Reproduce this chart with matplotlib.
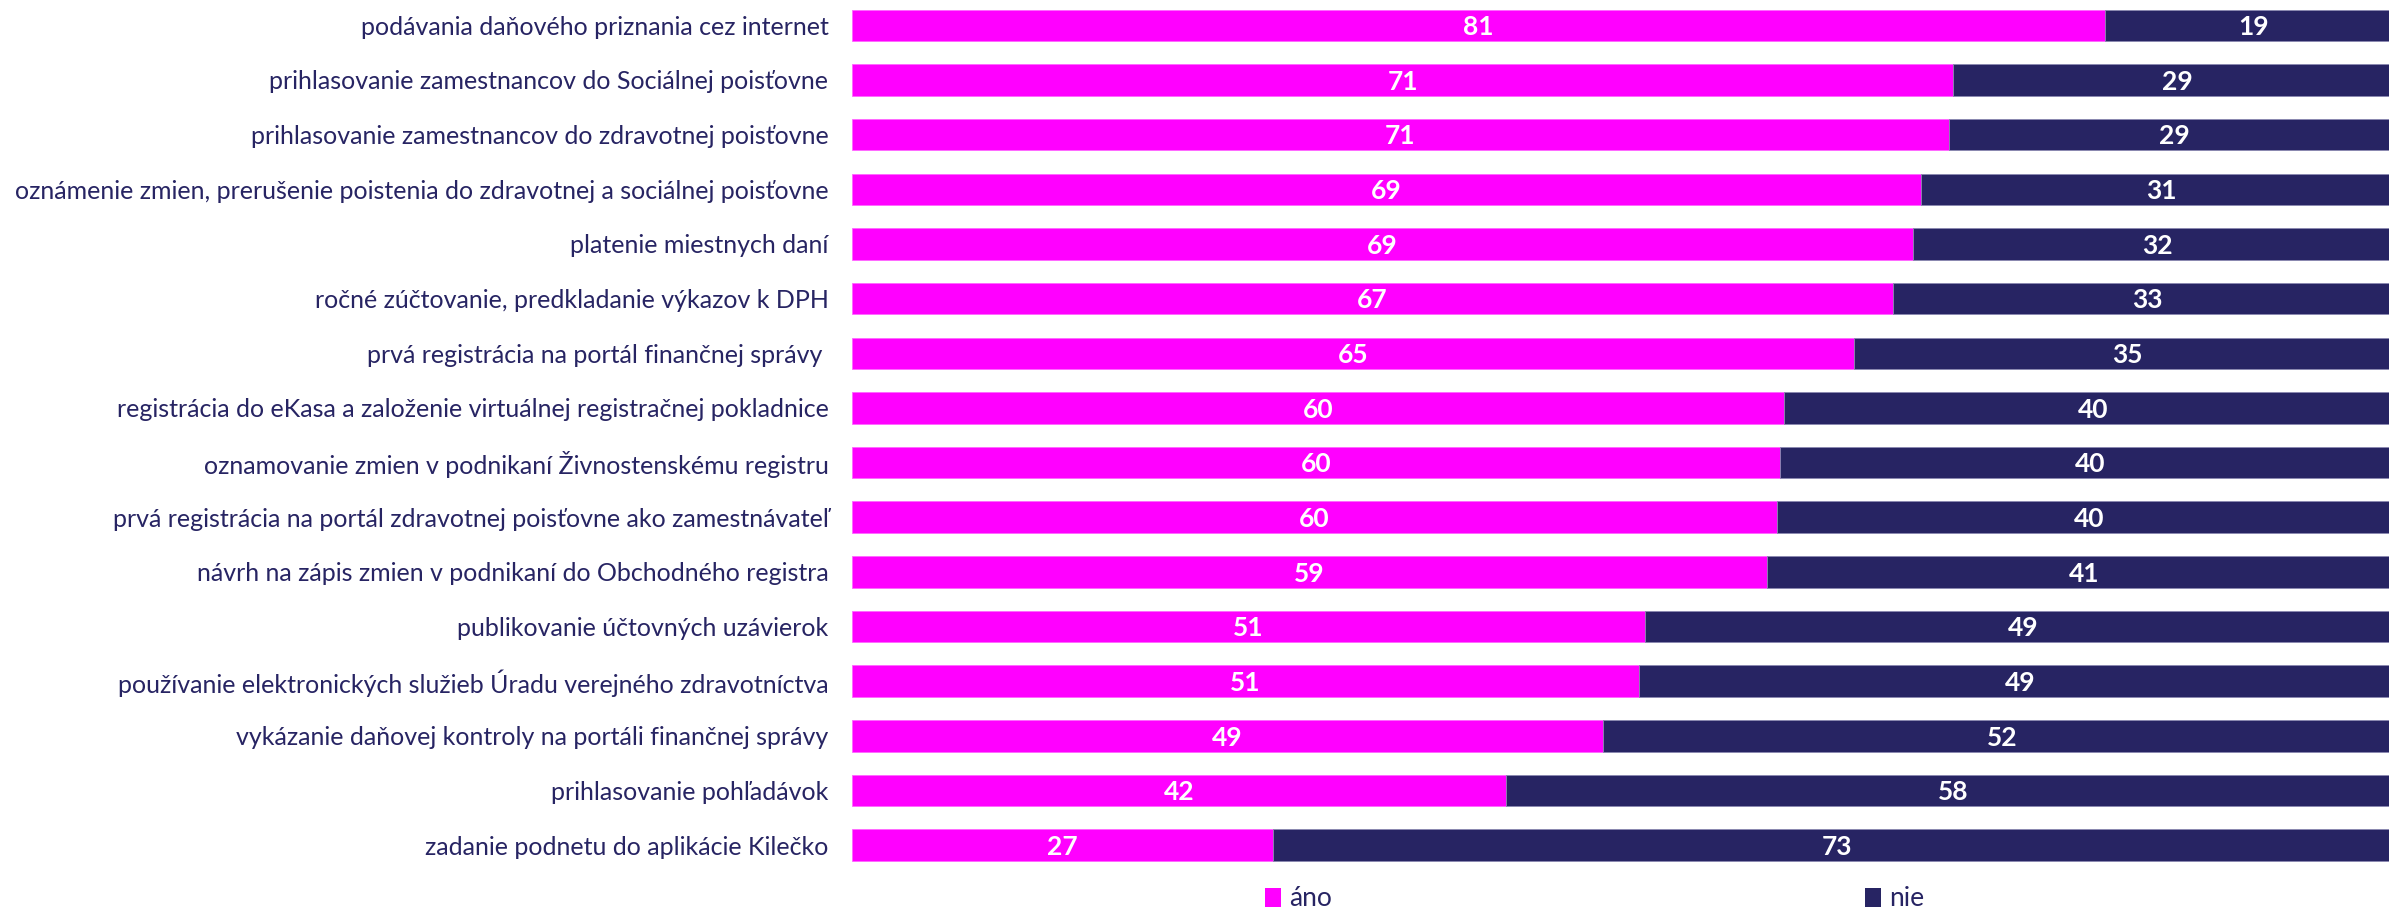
import matplotlib
matplotlib.use("Agg")
import matplotlib.pyplot as plt
from matplotlib.patches import Patch
import math

categories = [
    "podávania daňového priznania cez internet",
    "prihlasovanie zamestnancov do Sociálnej poisťovne",
    "prihlasovanie zamestnancov do zdravotnej poisťovne",
    "oznámenie zmien, prerušenie poistenia do zdravotnej a sociálnej poisťovne",
    "platenie miestnych daní",
    "ročné zúčtovanie, predkladanie výkazov k DPH",
    "prvá registrácia na portál finančnej správy ",
    "registrácia do eKasa a založenie virtuálnej registračnej pokladnice",
    "oznamovanie zmien v podnikaní Živnostenskému registru",
    "prvá registrácia na portál zdravotnej poisťovne ako zamestnávateľ",
    "návrh na zápis zmien v podnikaní do Obchodného registra",
    "publikovanie účtovných uzávierok",
    "používanie elektronických služieb Úradu verejného zdravotníctva",
    "vykázanie daňovej kontroly na portáli finančnej správy",
    "prihlasovanie pohľadávok",
    "zadanie podnetu do aplikácie Kilečko",
]
ano = [80.9, 71.1, 70.8, 69.0, 68.5, 67.2, 64.7, 60.2, 59.9, 59.7, 59.1, 51.2, 50.8, 48.5, 42.2, 27.2]
nie = [19.1, 28.9, 29.2, 31.0, 31.5, 32.8, 35.3, 39.8, 40.1, 40.3, 40.9, 48.8, 49.2, 51.5, 57.8, 72.8]
series_names = ["áno", "nie"]

PINK = "#FF00FF"
NAVY = "#272463"
TXT = "#272463"
FONT = ["Lato", "DejaVu Sans"]
plt.rcParams["font.family"] = FONT

W, H = 2389, 911
fig = plt.figure(figsize=(W / 100, H / 100), dpi=100)
ax_left = 852 / W
ax = fig.add_axes([ax_left, 1 - 872 / H, 1 - ax_left, 872 / H])

pitch = 54.66
y = list(range(len(categories)))
bh = 31.5 / pitch
ax.barh(y, ano, height=bh, color=PINK, edgecolor="#FF66FF", linewidth=0.6)
ax.barh(y, nie, left=ano, height=bh, color=NAVY, edgecolor="#8A88B0", linewidth=0.6)

def rnd(v):
    return int(math.floor(v + 0.5 + 1e-9))

for i in y:
    ax.text(ano[i] / 2, i + 0.03, str(rnd(ano[i])), ha="center", va="center",
            color="white", fontsize=19, fontweight="bold")
    ax.text(ano[i] + nie[i] / 2, i + 0.03, str(rnd(nie[i])), ha="center", va="center",
            color="white", fontsize=19, fontweight="bold")

full_px = 2401 - 852
ax.set_xlim(0, 100 * (W - 852) / full_px)
top = -25.3 / pitch
bottom = (872 - 25.3) / pitch
ax.set_ylim(bottom, top)
ax.set_yticks(y)
ax.set_yticklabels(categories, fontsize=18, color=TXT)
ax.tick_params(axis="y", length=0, pad=17)
ax.set_xticks([])
for s in ax.spines.values():
    s.set_visible(False)

leg_y = 1 - 899 / H
fig.legend(handles=[Patch(facecolor=PINK)], labels=[series_names[0]],
           loc="center left", bbox_to_anchor=(1265 / W, leg_y), frameon=False,
           fontsize=19, labelcolor=TXT, handlelength=0.6, handleheight=0.75,
           handletextpad=0.3, borderpad=0, borderaxespad=0)
fig.legend(handles=[Patch(facecolor=NAVY)], labels=[series_names[1]],
           loc="center left", bbox_to_anchor=(1865 / W, leg_y), frameon=False,
           fontsize=19, labelcolor=TXT, handlelength=0.6, handleheight=0.75,
           handletextpad=0.3, borderpad=0, borderaxespad=0)

fig.savefig("out.png", dpi=100)
